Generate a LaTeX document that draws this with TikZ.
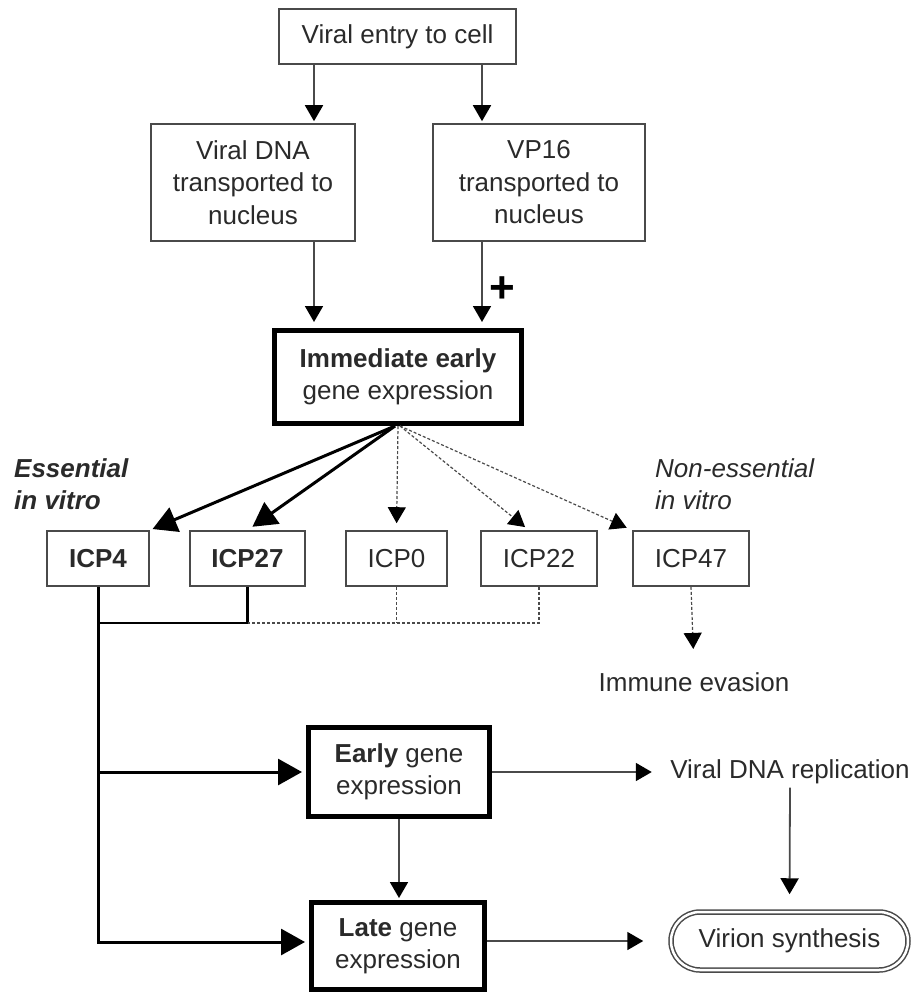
\documentclass[tikz,border=0pt]{standalone}
\usepackage{fontspec}
\setmainfont{Liberation Sans}
\usepackage{tikz}
\usetikzlibrary{arrows.meta}

\definecolor{linegray}{HTML}{4A4A4A}
\definecolor{textgray}{HTML}{2A2A2A}

\tikzset{
  thinbox/.style={draw=linegray, line width=1.6pt, inner sep=0pt, align=center},
  thickbox/.style={draw=black, line width=5pt, inner sep=0pt, align=center},
  thinarrow/.style={-{Triangle[length=16pt,width=18pt,color=black]}, draw=linegray, line width=1.8pt},
  thickarrow/.style={-{Triangle[length=24pt,width=26pt]}, line width=3pt},
  dashline/.style={draw=linegray, line width=1.2pt, dash pattern=on 3pt off 2pt},
  dasharrow/.style={dashline, -{Triangle[length=16pt,width=18pt,color=black]}},
}

\begin{document}
\begin{tikzpicture}[x=1pt, y=-1pt, font=\fontsize{26}{32.5}\selectfont, text=textgray]
  \useasboundingbox (0,0) rectangle (913,994);

  \node[thinbox, minimum width=237pt, minimum height=55pt] at (397.5,36.5) (entry) {Viral entry to cell};
  \node[thinbox, minimum width=204pt, minimum height=117pt] at (253,182.5) (dna) {Viral DNA\\transported to\\nucleus};
  \node[thinbox, minimum width=212pt, minimum height=117pt] at (539,182.5) (vp16) {VP16\\transported to\\nucleus};
  \node[font=\fontsize{44}{44}\selectfont\bfseries, text=black] at (502,290) (plus) {+};

  \node[thickbox, minimum width=247pt, minimum height=93pt] at (398,377) (ie) {\textbf{Immediate early}\\gene expression};

  \node[anchor=west, align=left, inner sep=0pt, font=\fontsize{26}{32.5}\selectfont\bfseries\itshape] at (14,484) (ess) {Essential\\in vitro};
  \node[anchor=west, align=left, inner sep=0pt, font=\fontsize{26}{32.5}\selectfont\itshape] at (655,484) (noness) {Non-essential\\in vitro};

  \node[thinbox, font=\fontsize{26}{32.5}\selectfont\bfseries, minimum width=102pt, minimum height=55pt] at (98,558.5) (icp4) {ICP4};
  \node[thinbox, font=\fontsize{26}{32.5}\selectfont\bfseries, minimum width=115pt, minimum height=55pt] at (247.5,558.5) (icp27) {ICP27};
  \node[thinbox, minimum width=101pt, minimum height=55pt] at (396.5,558.5) (icp0) {ICP0};
  \node[thinbox, minimum width=116pt, minimum height=55pt] at (539,558.5) (icp22) {ICP22};
  \node[thinbox, minimum width=116pt, minimum height=55pt] at (691,558.5) (icp47) {ICP47};
  \coordinate (bus) at (98,623);

  \node at (694,682) (immune) {Immune evasion};
  \node[thickbox, minimum width=181pt, minimum height=89pt] at (399,772) (early) {\textbf{Early} gene\\expression};
  \node at (790,772) (repl) {Viral DNA replication};
  \node[thickbox, minimum width=173pt, minimum height=87pt] at (398,946) (late) {\textbf{Late} gene\\expression};
  \node[draw=linegray, double, double distance=2.5pt, line width=1.5pt, rounded corners=29pt, minimum width=237pt, minimum height=58pt] at (789.5,941) (virion) {Virion synthesis};

  \draw[thinarrow, shorten >=2pt] ([xshift=-83.5pt]entry.south) -- ([xshift=-83.5pt]entry.south |- dna.north);
  \draw[thinarrow, shorten >=2pt] ([xshift=84.5pt]entry.south) -- ([xshift=84.5pt]entry.south |- vp16.north);
  \draw[thinarrow, shorten >=6pt] ([xshift=-84pt]ie.north |- dna.south) -- ([xshift=-84pt]ie.north);
  \draw[thinarrow, shorten >=6pt] ([xshift=84pt]ie.north |- vp16.south) -- ([xshift=84pt]ie.north);

  \draw[thickarrow, shorten >=3pt] ([xshift=-3pt]ie.south) -- (icp4.north east);
  \draw[thickarrow, shorten >=6pt] ([xshift=-3pt]ie.south) -- (icp27.north);
  \draw[dasharrow, shorten >=7pt] (ie.south) -- (icp0.north);
  \draw[dasharrow, shorten >=5pt] ([xshift=2pt]ie.south) -- ([xshift=-10pt]icp22.north);
  \draw[dasharrow, shorten >=6pt] ([xshift=2pt]ie.south) -- (icp47.north west);

  \draw[line width=2.5pt] (icp27.south) |- (bus);
  \draw[dashline] (icp22.south) |- (icp27.south |- bus);
  \draw[dashline] (icp0.south) -- (icp0.south |- bus);
  \draw[thickarrow, shorten >=4pt] (icp4.south) |- ([yshift=4pt]late.west);
  \draw[thickarrow, shorten >=4pt] (icp4.south |- early.west) -- (early.west);

  \draw[dasharrow, shorten >=20pt] (icp47.south) -- (immune.north);
  \draw[thinarrow, shorten >=15pt] (early.east) -- (early.east -| repl.west);
  \draw[thinarrow, shorten >=17pt] (repl.south) -- (virion.north);
  \draw[thinarrow, shorten >=2pt] (early.south) -- (early.south |- late.north);
  \draw[thinarrow, shorten >=27pt] (late.east |- virion.west) -- (virion.west);
\end{tikzpicture}
\end{document}
